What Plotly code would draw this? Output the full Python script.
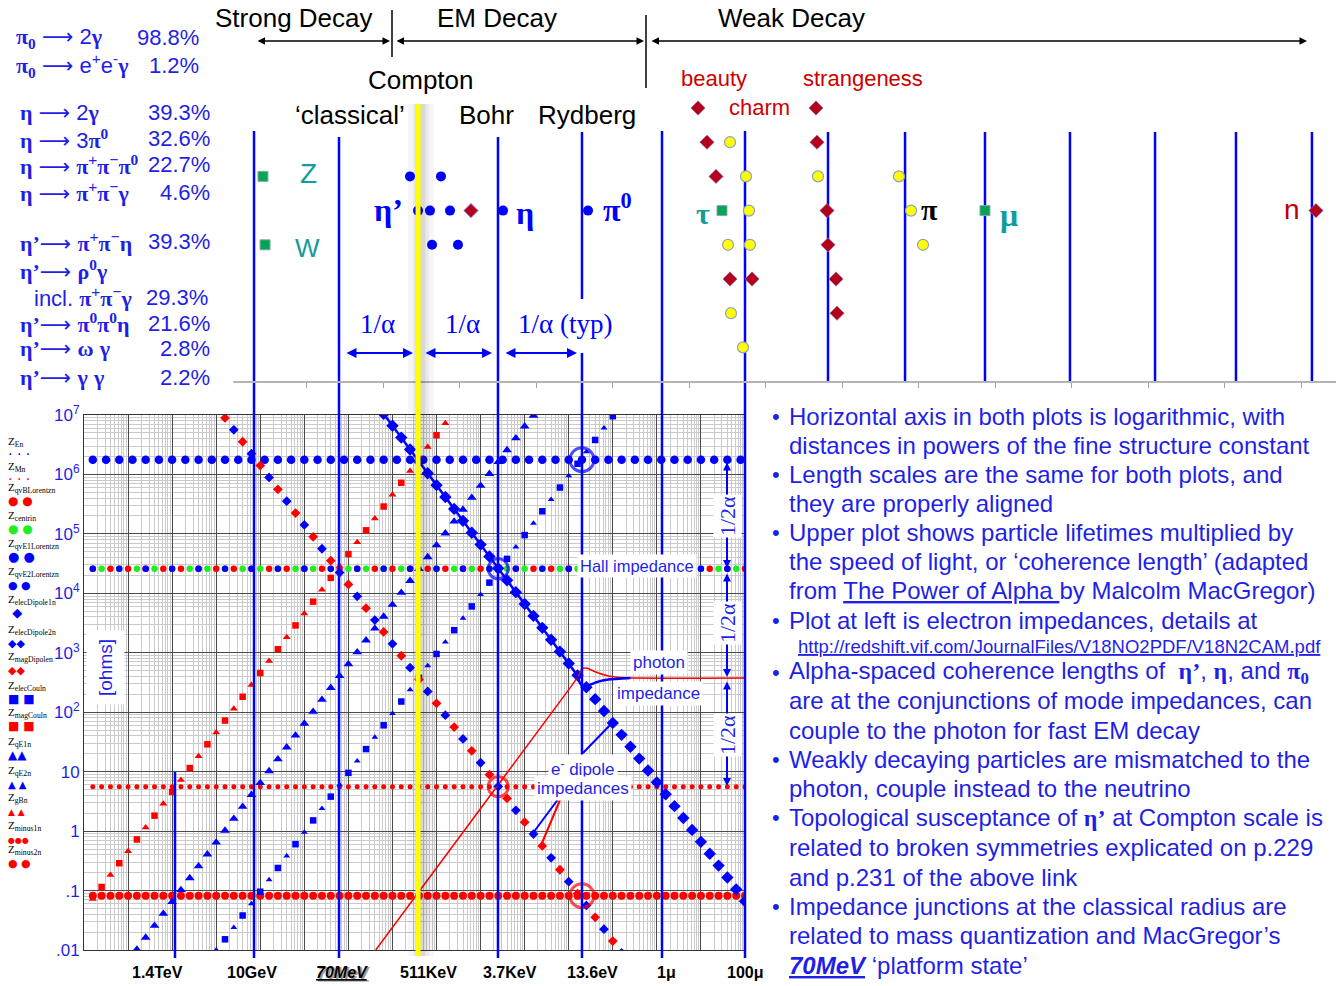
import plotly.graph_objects as go

W, H = 1340, 986
SANS = "Liberation Sans, Arial, sans-serif"
SERIF = "Liberation Serif, Times New Roman, serif"
GLYPH = "DejaVu Sans, sans-serif"

BLUE = "#0000ff"
TBLUE = "#1f1fe6"
RED = "#ff0000"
GREEN = "#1fef1f"
DKRED = "#b4001e"
TEAL = "#139c9c"
YELLOW = "#ffff00"

# ======================= DATA =======================
# Lower plot: sample positions along the length axis (decades)
GRID_DEC = [0.2, 0.4, 0.6, 0.8, 1.0, 1.2, 1.4, 1.6, 1.8, 2.0,
            2.2, 2.4, 2.6, 2.8, 3.0, 3.2, 3.4, 3.6, 3.8, 4.0,
            4.2, 4.4, 4.6, 4.8, 5.0, 5.2, 5.4, 5.6, 5.8, 6.0,
            6.2, 6.4, 6.6, 6.8, 7.0, 7.2, 7.4, 7.6, 7.8, 8.0,
            8.2, 8.4, 8.6, 8.8, 9.0, 9.2, 9.4, 9.6, 9.8, 10.0,
            10.2, 10.4, 10.6, 10.8, 11.0, 11.2, 11.4, 11.6, 11.8, 12.0,
            12.2, 12.4, 12.6, 12.8, 13.0, 13.2, 13.4, 13.6, 13.8, 14.0,
            14.2, 14.4, 14.6, 14.8, 15.0]
COARSE_DEC = [0.2, 0.5, 0.8, 1.1, 1.4, 1.7, 2.0, 2.3, 2.6, 2.9,
              3.2, 3.5, 3.8, 4.1, 4.4, 4.7, 5.0, 5.3, 5.6, 5.9,
              6.2, 6.5, 6.8, 7.1, 7.4, 7.7, 8.0, 8.3, 8.6, 8.9,
              9.2, 9.5, 9.8, 10.1, 10.4, 10.7, 11.0, 11.3, 11.6, 11.9,
              12.2, 12.5, 12.8, 13.1, 13.4, 13.7, 14.0, 14.3, 14.6, 14.9]

# constant impedances (ohms)
Z_TOP_ROW = 1.77e6
Z_HALL = 25813.0
Z_MINUS1 = 5.6
Z_MINUS2 = 0.082

# sloped impedance series: log10(ohms) at their sample positions
LOG_Z_GB = [-1.14, -0.74, -0.34, 0.06, 0.46, 0.86, 1.26, 1.66, 2.06, 2.46, 2.86,
            3.26, 3.66, 4.06, 4.46, 4.86, 5.26, 5.66, 6.06, 6.46, 6.86]
LOG_Z_MAGCOUL = [-0.94, -0.54, -0.14, 0.26, 0.66, 1.06, 1.46, 1.86, 2.26, 2.66,
                 3.06, 3.46, 3.86, 4.26, 4.66, 5.06, 5.46, 5.86, 6.26, 6.66]
LOG_Z_QE1 = [-1.99, -1.79, -1.59, -1.39, -1.19, -0.99, -0.79, -0.59, -0.39, -0.19,
             0.01, 0.21, 0.41, 0.61, 0.81, 1.01, 1.21, 1.41, 1.61, 1.81,
             2.01, 2.21, 2.41, 2.61, 2.81, 3.01, 3.21, 3.41, 3.61, 3.81,
             4.01, 4.21, 4.41, 4.61, 4.81, 5.01, 5.21, 5.41, 5.61, 5.81,
             6.01, 6.21, 6.41, 6.61, 6.81, 6.99]
LOG_Z_ELECCOUL = [-1.82, -1.42, -1.02, -0.62, -0.22, 0.18, 0.58, 0.98, 1.38, 1.78, 2.18, 2.58,
                  2.98, 3.38, 3.78, 4.18, 4.58, 4.98, 5.38, 5.78, 6.18, 6.58, 6.98]
LOG_Z_QE2 = [-2.0, -1.62, -1.22, -0.82, -0.42, -0.02, 0.38, 0.78, 1.18, 1.58, 1.98, 2.38,
             2.78, 3.18, 3.58, 3.98, 4.38, 4.78, 5.18, 5.58, 5.98, 6.38, 6.78]
LOG_Z_MAGDIPOLE = [6.95, 6.55, 6.15, 5.75, 5.35, 4.95, 4.55, 4.15, 3.75, 3.35, 2.95, 2.55,
                   2.15, 1.75, 1.35, 0.95, 0.55, 0.15, -0.25, -0.65, -1.05, -1.45, -1.85]
LOG_Z_ELECDIPOLE2 = [6.75, 6.35, 5.95, 5.55, 5.15, 4.75, 4.35, 3.95, 3.55, 3.15, 2.75, 2.35,
                     1.95, 1.55, 1.15, 0.75, 0.35, -0.05, -0.45, -0.85, -1.25, -1.65, -2.05]
LOG_Z_ELECDIPOLE1 = [7.02, 6.82, 6.62, 6.42, 6.22, 6.02, 5.82, 5.62, 5.42, 5.22,
                     5.02, 4.82, 4.62, 4.42, 4.22, 4.02, 3.82, 3.62, 3.42, 3.22,
                     3.02, 2.82, 2.62, 2.42, 2.22, 2.02, 1.82, 1.62, 1.42, 1.22,
                     1.02, 0.82, 0.62, 0.42, 0.22, 0.02, -0.18, -0.38, -0.58, -0.78,
                     -0.98, -1.18]

# photon impedance curves
PHOTON_RED_DEC = [6.62, 10.9, 11.1, 11.22, 11.32, 11.42, 11.6, 11.9, 12.3, 15.0]
PHOTON_RED_LOGZ = [-2.0, 2.28, 2.48, 2.62, 2.74, 2.74, 2.68, 2.61, 2.58, 2.576]
PHOTON_BLUE_DEC = [6.8, 11.0, 11.15, 11.25, 11.33, 11.45, 11.65, 11.9, 12.4]
PHOTON_BLUE_LOGZ = [7.02, 2.82, 2.66, 2.50, 2.42, 2.45, 2.51, 2.55, 2.576]

# marked conjunctions
RING_BLUE_DEC = [11.3, 9.4]
RING_BLUE_Z = [1.77e6, 25813.0]
RING_RED_DEC = [9.4, 11.3]
RING_RED_Z = [5.6, 0.082]

# Upper plot: coherence lengths (upper axis units, one per tick) and row index
MESON_X = [1.353, 1.758, 1.458, 1.614, 1.876, 2.569, 3.680, 1.641, 1.980]
MESON_ROW = [3, 3, 4, 4, 4, 4, 4, 5, 5]
EM_DIAMOND_X = [2.150]
EM_DIAMOND_ROW = [4]
BOSON_LEPTON_X = [-0.569, -0.542, 5.431, 8.869]
BOSON_LEPTON_ROW = [3, 5, 4, 4]
WEAK_DIAMOND_X = [5.118, 6.660, 5.235, 6.673, 5.353, 6.804, 6.817, 5.536, 5.824, 6.922, 6.935, 13.196]
WEAK_DIAMOND_ROW = [1, 1, 2, 2, 3, 4, 5, 6, 6, 6, 7, 4]
YELLOW_X = [5.536, 5.745, 6.686, 7.745, 5.784, 7.902, 5.510, 5.797, 8.059, 5.549, 5.706]
YELLOW_ROW = [2, 3, 3, 3, 4, 4, 5, 5, 5, 7, 8]

# length-scale reference lines (upper axis units)
LINES_BOTH = [-0.686, 0.425, 2.503, 4.647, 5.732]
LINE_RYDBERG = 3.601
LINE_COMPTON = 1.458
LINE_TEV = -1.719
LINES_UPPER = [6.817, 7.824, 8.869, 9.980, 11.092, 12.150, 13.143]

Y_TICKS = [0.01, 0.1, 1, 10, 100, 1e3, 1e4, 1e5, 1e6, 1e7]
Y_TICKTEXT = [".01", ".1", "1", "10", "10<sup>2</sup>", "10<sup>3</sup>", "10<sup>4</sup>",
              "10<sup>5</sup>", "10<sup>6</sup>", "10<sup>7</sup>"]
X_LABELS = ["1.4TeV", "10GeV", "70MeV", "511KeV", "3.7KeV", "13.6eV", "1μ", "100μ"]

# ======================= FIGURE =======================
fig = go.Figure()
annotations = []
shapes = []


def P(x, y):
    return x / W, 1 - y / H


def dec(vals):
    return [10 ** v for v in vals]


def g(s, bold=True):
    w = "font-weight:bold;" if bold else ""
    return f'<span style="font-family:Liberation Serif;{w}">{s}</span>'


ARR = '<span style="font-family:DejaVu Sans">⟶</span>'


def text(x, y, s, size=20, color="black", family=SANS, xa="center", ya="middle", **kw):
    X, Y = P(x, y)
    d = dict(x=X, y=Y, xref="paper", yref="paper", text=s, showarrow=False,
             font=dict(size=size, color=color, family=family), xanchor=xa, yanchor=ya)
    d.update(kw)
    annotations.append(d)


def arrow(x0, y0, x1, y1, color, width=1.5, head=2, size=1.0):
    X, Y = P(x1, y1)
    annotations.append(dict(x=X, y=Y, xref="paper", yref="paper", ax=x0 - x1, ay=y0 - y1,
                            axref="pixel", ayref="pixel", text="", showarrow=True,
                            arrowhead=head, startarrowhead=head, arrowside="end+start",
                            arrowcolor=color, arrowwidth=width, arrowsize=size,
                            startarrowsize=size, standoff=0, startstandoff=0))


def seg(x0, y0, x1, y1, color, width):
    X0, Y0 = P(x0, y0)
    X1, Y1 = P(x1, y1)
    shapes.append(dict(type="line", xref="paper", yref="paper", x0=X0, y0=Y0, x1=X1, y1=Y1,
                       line=dict(color=color, width=width)))


def add(xs, ys, symbol, color, size, axes=("x", "y"), line=None, **kw):
    mk = dict(symbol=symbol, color=color, size=size, line=line or dict(width=0))
    fig.add_trace(go.Scatter(x=xs, y=ys, mode="markers", marker=mk, hoverinfo="skip",
                             showlegend=False, xaxis=axes[0], yaxis=axes[1], **kw))


# ---- lower plot: constant rows
add(dec(GRID_DEC), [Z_MINUS2] * len(GRID_DEC), "circle", RED, 8)
add(dec(GRID_DEC), [Z_MINUS1] * len(GRID_DEC), "circle", RED, 5)
hall_red = GRID_DEC[0::2]
hall_green = GRID_DEC[1::2]
hall_blue = GRID_DEC[0::3]
add(dec(hall_red), [Z_HALL] * len(hall_red), "circle", RED, 6.5)
add(dec(hall_green), [Z_HALL] * len(hall_green), "circle", GREEN, 6.5)
add(dec(hall_blue), [Z_HALL] * len(hall_blue), "circle", BLUE, 6.5)
add(dec(COARSE_DEC), [Z_TOP_ROW] * len(COARSE_DEC), "circle", BLUE, 8.5)

# ---- lower plot: sloped series
add(dec(GRID_DEC[0:41:2]), dec(LOG_Z_GB), "triangle-up", RED, 7)
add(dec(GRID_DEC[1:40:2]), dec(LOG_Z_MAGCOUL), "square", RED, 6.5)
add(dec(GRID_DEC[5:51]), dec(LOG_Z_QE1), "triangle-up", BLUE, 8.5)
add(dec(GRID_DEC[15:60:2]), dec(LOG_Z_ELECCOUL), "square", BLUE, 6.5)
add(dec(GRID_DEC[14:59:2]), dec(LOG_Z_QE2), "triangle-up", BLUE, 6)
add(dec(GRID_DEC[15:60:2]), dec(LOG_Z_MAGDIPOLE), "diamond", RED, 7.5)
add(dec(GRID_DEC[16:61:2]), dec(LOG_Z_ELECDIPOLE2), "diamond", BLUE, 7.5)
add(dec(GRID_DEC[33:75]), dec(LOG_Z_ELECDIPOLE1), "diamond", BLUE, 9.5)

fig.add_trace(go.Scatter(x=dec(PHOTON_RED_DEC), y=dec(PHOTON_RED_LOGZ), mode="lines",
                         line=dict(color=RED, width=1.5, shape="spline", smoothing=0.6),
                         hoverinfo="skip", showlegend=False, xaxis="x", yaxis="y"))
fig.add_trace(go.Scatter(x=dec(PHOTON_BLUE_DEC), y=dec(PHOTON_BLUE_LOGZ), mode="lines",
                         line=dict(color=BLUE, width=2.5, shape="spline", smoothing=0.6),
                         hoverinfo="skip", showlegend=False, xaxis="x", yaxis="y"))
add(dec(RING_BLUE_DEC), RING_BLUE_Z, "circle-open", BLUE, [24, 20], line=dict(width=3, color=BLUE))
add(dec(RING_RED_DEC), RING_RED_Z, "circle-open", RED, [20, 24], line=dict(width=3, color=RED))

# ---- upper plot markers
UP = ("x2", "y2")
add(MESON_X, MESON_ROW, "circle", BLUE, 10, axes=UP)
add(EM_DIAMOND_X, EM_DIAMOND_ROW, "diamond", DKRED, 11, axes=UP, line=dict(width=1, color="#8a8ad0"))
add(WEAK_DIAMOND_X, WEAK_DIAMOND_ROW, "diamond", DKRED, 11, axes=UP, line=dict(width=0.6, color="#8080a0"))
add(YELLOW_X, YELLOW_ROW, "circle", YELLOW, 11, axes=UP, line=dict(width=1.2, color="#8ea2ba"))
add(BOSON_LEPTON_X, BOSON_LEPTON_ROW, "square", "#00a651", 10, axes=UP, line=dict(width=1, color="#8ea2ba"))


# ---- vertical reference lines
def row_of(ypx):
    return (ypx - 73.8) / 34.2


def vup(xv, top, bot=382, color=BLUE, width=2.5):
    shapes.append(dict(type="line", xref="x2", yref="y2", x0=xv, x1=xv, y0=row_of(top),
                       y1=row_of(bot), layer="between", line=dict(color=color, width=width)))


def vlow(xv, top, bot, color=BLUE, width=2.5):
    shapes.append(dict(type="line", xref="x2", yref="paper", x0=xv, x1=xv, y0=1 - top / H,
                       y1=1 - bot / H, line=dict(color=color, width=width)))


for xv, top in zip(LINES_BOTH, [131, 137, 137, 131, 131]):
    vup(xv, top)
    vlow(xv, 381, 958)
vup(LINE_RYDBERG, 132, 299)
vup(LINE_RYDBERG, 353, 382)
vlow(LINE_RYDBERG, 381, 958)
vlow(LINE_TEV, 772, 958)
for xv in LINES_UPPER:
    vup(xv, 132)

# upper axis baseline
shapes.append(dict(type="line", xref="x2", yref="paper", x0=-0.958, x1=13.458,
                   y0=1 - 382 / H, y1=1 - 382 / H, line=dict(color="#b4b4b4", width=2)))

# Compton line with shadow
for off, wd, op in [(0.04, 26, 0.035), (0.04, 16, 0.05), (0.03, 10, 0.07)]:
    vlow(LINE_COMPTON + off, 104, 956, color=f"rgba(0,0,0,{op})", width=wd)
vlow(LINE_COMPTON, 104, 956, color=YELLOW, width=5)

# leader lines
seg(583, 753, 613, 722, BLUE, 2)
seg(533, 833, 559, 798, BLUE, 2)
seg(542, 843, 560, 800, RED, 2)
# separators at top
seg(392, 10, 392, 57, "black", 1.5)
seg(646, 15, 646, 88, "black", 1.5)

# ======================= TEXT =======================
# top region labels
text(294, 18, "Strong Decay", 26)
text(497, 18, "EM Decay", 26)
text(791, 18, "Weak Decay", 26)
arrow(256, 41, 390, 41, "black", 1.5)
arrow(395, 41, 644, 41, "black", 1.5)
arrow(650, 41, 1307, 41, "black", 1.5)
text(421, 80, "Compton", 26)
text(350, 115, "‘classical’", 26)
text(486, 115, "Bohr", 26)
text(587, 115, "Rydberg", 26)
text(714, 78, "beauty", 22, "#cc0000")
text(863, 78, "strangeness", 22, "#cc0000")
text(759, 108, "charm", 22, "#cc0000")

# particle labels
text(308, 173, "Z", 28, TEAL)
text(307, 248, "W", 26, TEAL)
text(388, 210, g("η’"), 32, BLUE)
text(525, 213, g("η"), 32, BLUE)
text(617, 208, g("π") + "<sup>" + g("0") + "</sup>", 32, BLUE)
text(703, 213, g("τ"), 30, TEAL)
text(929, 209, g("π"), 30, "black")
text(1009, 215, g("μ"), 32, TEAL)
text(1292, 210, "n", 28, "#c00000")

# 1/alpha spacing
text(377, 324, g("1/α", bold=False), 27, BLUE)
text(462, 324, g("1/α", bold=False), 27, BLUE)
text(565, 324, g("1/α (typ)", bold=False), 27, BLUE)
arrow(345, 353, 413, 353, BLUE, 2)
arrow(424, 353, 492, 353, BLUE, 2)
arrow(504, 353, 577, 353, BLUE, 2)

# decay branching list
pi, eta, gam = g("π"), g("η"), g("γ")
etap = g("η’")
zero = g("0")
DECAYS = [
    (14, 38, pi + "<sub>" + zero + "</sub> " + ARR + " 2" + gam, "98.8%", 201),
    (14, 65, pi + "<sub>" + zero + "</sub> " + ARR + " e<sup>+</sup>e<sup>-</sup>" + gam, "1.2%", 201),
    (18, 112, eta + " " + ARR + " 2" + gam, "39.3%", 212),
    (18, 139, eta + " " + ARR + " 3" + pi + "<sup>" + zero + "</sup>", "32.6%", 212),
    (18, 165, eta + " " + ARR + " " + pi + "<sup>+</sup>" + pi + "<sup>−</sup>" + pi + "<sup>" + zero + "</sup>", "22.7%", 212),
    (18, 192, eta + " " + ARR + " " + pi + "<sup>+</sup>" + pi + "<sup>−</sup>" + gam, "4.6%", 212),
    (18, 242, etap + ARR + " " + pi + "<sup>+</sup>" + pi + "<sup>−</sup>" + eta, "39.3%", 212),
    (18, 270, etap + ARR + " " + g("ρ") + "<sup>" + zero + "</sup>" + gam, "", 212),
    (32, 297, "incl. " + pi + "<sup>+</sup>" + pi + "<sup>−</sup>" + gam, "29.3%", 210),
    (18, 323, etap + ARR + " " + pi + "<sup>" + zero + "</sup>" + pi + "<sup>" + zero + "</sup>" + eta, "21.6%", 212),
    (18, 348, etap + ARR + " " + g("ω") + " " + gam, "2.8%", 212),
    (18, 377, etap + ARR + " " + gam + " " + gam, "2.2%", 212),
]
for x0, y0, f, pct, xr in DECAYS:
    text(x0, y0, f, 22, TBLUE, xa="left")
    if pct:
        text(xr, y0, pct, 22, TBLUE, xa="right")

# right-hand bullet text
U = '<span style="text-decoration:underline">'
BULLETS = [
    (416, True, "Horizontal axis in both plots is logarithmic, with"),
    (445, False, "distances in powers of the fine structure constant"),
    (474, True, "Length scales are the same for both plots, and"),
    (503, False, "they are properly aligned"),
    (532, True, "Upper plot shows particle lifetimes multiplied by"),
    (561, False, "the speed of light, or ‘coherence length’ (adapted"),
    (590, False, "from " + U + "The Power of Alpha </span>by Malcolm MacGregor)"),
    (620, True, "Plot at left is electron impedances, details at"),
    (672, True, "Alpha-spaced coherence lengths of  " + etap + ", " + eta + ", and " + pi + "<sub>" + zero + "</sub>"),
    (700, False, "are at the conjunctions of mode impedances, can"),
    (730, False, "couple to the photon for fast EM decay"),
    (759, True, "Weakly decaying particles are mismatched to the"),
    (788, False, "photon, couple instead to the neutrino"),
    (817, True, "Topological susceptance of " + etap + " at Compton scale is"),
    (847, False, "related to broken symmetries explicated on p.229"),
    (877, False, "and p.231 of the above link"),
    (906, True, "Impedance junctions at the classical radius are"),
    (935, False, "related to mass quantization and MacGregor’s"),
    (965, False, U + "<b><i>70MeV</i></b></span> ‘platform state’"),
]
for yy, bullet, s in BULLETS:
    if bullet:
        text(776, yy, "•", 22, TBLUE)
    text(787, yy, s, 24, TBLUE, xa="left")
text(796, 646, U + "http://redshift.vif.com/JournalFiles/V18NO2PDF/V18N2CAM.pdf</span>", 18.5, TBLUE, xa="left")

# in-plot boxed labels
BOX = dict(bgcolor="white", borderpad=2)
text(637, 566, "Hall impedance", 16.5, TBLUE, **BOX)
text(659, 662, "photon", 17, TBLUE, **BOX)
text(658, 693, "impedance", 17, TBLUE, **BOX)
text(583, 768, "e<sup>-</sup> dipole", 17, TBLUE, **BOX)
text(583, 788, "impedances", 17, TBLUE, **BOX)
for ya, yb, yc in [(461, 568, 516), (572, 677, 623), (680, 786, 735)]:
    arrow(727, ya, 727, yb, BLUE, 2, head=2, size=0.8)
    text(727, yc, g("1/2α", bold=False), 22, TBLUE, textangle=-90, bgcolor="white", borderpad=1)
text(105, 668, "[ohms]", 19, TBLUE, textangle=-90, bgcolor="white", borderpad=8)

# bottom axis labels
for lab, xx in zip(X_LABELS, [157, 252, 342, 428, 510, 592, 666, 745]):
    if lab == "70MeV":
        text(xx + 1.5, 973.5, U + "<b><i>70MeV</i></b></span>", 16, "#9a9a9a")
        text(xx, 972, U + "<b><i>70MeV</i></b></span>", 16, "black")
    else:
        text(xx, 972, "<b>" + lab + "</b>", 16, "black")

# legend (left): label with its key glyphs on the line below
LEGEND = [
    ("E", "· · ·", BLUE, 14), ("M", "· · ·", RED, 14), ("qvBLorentz", "● ●", RED, 12),
    ("centri", "● ●", GREEN, 12), ("qvE1Lorentz", "● ●", BLUE, 13), ("qvE2Lorentz", "● ●", BLUE, 11),
    ("elecDipole1", " ◆", BLUE, 13), ("elecDipole2", "◆◆", BLUE, 11), ("magDipole", "◆◆", RED, 11),
    ("elecCoul", "■ ■", BLUE, 12), ("magCoul", "■ ■", RED, 12), ("qE1", "▲▲", BLUE, 12),
    ("qE2", "▲ ▲", BLUE, 10), ("gB", "▲ ▲", RED, 9), ("minus1", "●●●", RED, 8), ("minus2", "● ●", RED, 11),
]
LEG_Y = [448, 473, 494, 522, 550, 578, 606, 636, 663, 692, 719, 748, 777, 804, 832, 856]
for (name, glyph, col, gs), ly in zip(LEGEND, LEG_Y):
    s = ("Z<sub>" + name + "</sub><sub>n</sub><br>"
         + f'<span style="font-family:DejaVu Sans;font-size:{gs}px;color:{col}">{glyph}</span>')
    text(6, ly, s, 11, "black", family=SERIF, xa="left", align="left")

# ======================= LAYOUT =======================
minor_x = [m * 10 ** k for k in range(15) for m in range(2, 10)]
minor_y = [m * 10.0 ** k for k in range(-2, 7) for m in range(2, 10)]

fig.update_layout(
    width=W, height=H, autosize=False,
    margin=dict(l=0, r=0, t=0, b=0, pad=0, autoexpand=False),
    paper_bgcolor="white", plot_bgcolor="white", showlegend=False,
    xaxis=dict(domain=[84 / W, 745 / W], type="log", range=[0, 15], anchor="y", automargin=False,
               tickmode="array", tickvals=[10 ** k for k in range(16)], showticklabels=False,
               ticks="", showgrid=True, gridcolor="#4a4a4a", gridwidth=1,
               minor=dict(tickmode="array", tickvals=minor_x, showgrid=True,
                          gridcolor="#cacaca", gridwidth=1, ticks=""),
               showline=True, linecolor="#333333", linewidth=1, mirror=True, zeroline=False),
    yaxis=dict(domain=[1 - 950 / H, 1 - 415 / H], type="log", range=[-2, 7], anchor="x", automargin=False,
               tickmode="array", tickvals=Y_TICKS, ticktext=Y_TICKTEXT,
               tickfont=dict(color=TBLUE, size=17, family=SANS), ticks="",
               showgrid=True, gridcolor="#4a4a4a", gridwidth=1,
               minor=dict(tickmode="array", tickvals=minor_y, showgrid=True,
                          gridcolor="#cacaca", gridwidth=1, ticks=""),
               showline=True, linecolor="#333333", linewidth=1, mirror=True, zeroline=False),
    xaxis2=dict(domain=[0, 1], range=[-306.5 / 76.5, (W - 306.5) / 76.5], anchor="y2", automargin=False,
                tickmode="array", tickvals=list(range(14)), ticks="outside", ticklen=5,
                tickcolor="#a0a0a0", tickwidth=1, showticklabels=False, showgrid=False,
                zeroline=False, showline=False),
    yaxis2=dict(domain=[1 - 382 / H, 1 - 90 / H], range=[row_of(382), row_of(90)], anchor="x2",
                automargin=False, showticklabels=False, showgrid=False, zeroline=False,
                showline=False, ticks=""),
    annotations=annotations, shapes=shapes,
)

fig.write_html("out.html")
